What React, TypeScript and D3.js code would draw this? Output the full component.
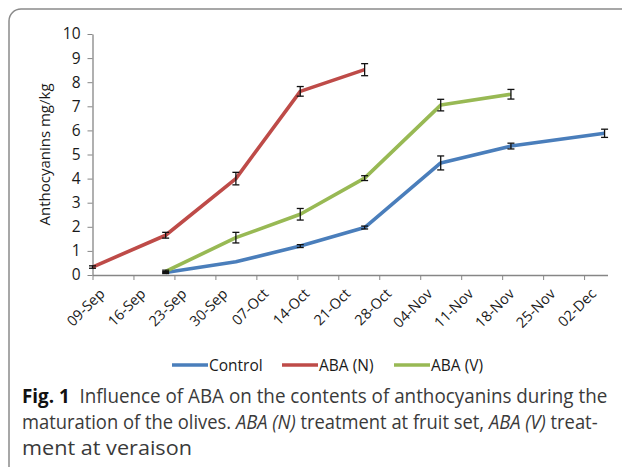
import React, { useEffect, useRef } from 'react';
import * as d3 from 'd3';

// sampling dates (half-day positions)
const sampleDates = [
  new Date(2013, 8, 9, 0),
  new Date(2013, 8, 21, 12),
  new Date(2013, 9, 3, 12),
  new Date(2013, 9, 14, 12),
  new Date(2013, 9, 25, 12),
  new Date(2013, 10, 7, 12),
  new Date(2013, 10, 19, 12),
  new Date(2013, 11, 5, 12),
];

const controlValues = [null, 0.1, 0.55, 1.2, 1.97, 4.65, 5.35, 5.88];
const controlErrors = [null, 0.04, 0.0, 0.06, 0.06, 0.29, 0.12, 0.17];
const abaNValues = [0.33, 1.65, 4.0, 7.62, 8.52, null, null, null];
const abaNErrors = [0.05, 0.12, 0.26, 0.2, 0.25, null, null, null];
const abaVValues = [null, 0.15, 1.55, 2.52, 4.02, 7.05, 7.5, null];
const abaVErrors = [null, 0.05, 0.22, 0.24, 0.1, 0.24, 0.2, null];

const seriesNames = ['Control', 'ABA (N)', 'ABA (V)'];
const seriesColors = ['#4A7EBB', '#BE4B48', '#98B954'];

const xTickStart = new Date(2013, 8, 9);
const xTickEnd = new Date(2013, 11, 2);
const xDomainEnd = new Date(2013, 11, 6);
const yTicks = [0, 1, 2, 3, 4, 5, 6, 7, 8, 9, 10];

const yTitle = 'Anthocyanins mg/kg';
const captionBold = 'Fig. 1';
const captionLines = [
  'Influence of ABA on the contents of anthocyanins during the',
  'maturation of the olives. ',
  'ment at veraison',
];

const fmt = d3.timeFormat('%d-%b');

export default function App() {
  const svgRef = useRef<SVGSVGElement>(null);

  useEffect(() => {
    if (!svgRef.current) return;
    const svg = d3.select(svgRef.current);
    svg.selectAll('*').remove();

    const font = "'Open Sans', 'Noto Sans', sans-serif";
    const left = 92.5;
    const right = 607.5;
    const top = 34;
    const bottom = 275;

    const x = d3.scaleTime().domain([xTickStart, xDomainEnd]).range([left, right]);
    const y = d3.scaleLinear().domain([0, 10]).range([bottom, top]);

    // frame
    svg
      .append('rect')
      .attr('x', 9)
      .attr('y', 9)
      .attr('width', 700)
      .attr('height', 520)
      .attr('rx', 12)
      .attr('fill', 'none')
      .attr('stroke', '#8a8a8a')
      .attr('stroke-width', 1.5);

    // y axis
    const yAxis = svg
      .append('g')
      .attr('transform', `translate(${left},0)`)
      .call(d3.axisLeft(y).tickValues(yTicks).tickSize(5).tickSizeOuter(0).tickPadding(7));
    yAxis.select('.domain').attr('stroke', '#868686').attr('stroke-width', 1.3);
    yAxis.selectAll('.tick line').attr('stroke', '#868686');
    yAxis
      .selectAll('.tick text')
      .attr('font-family', font)
      .attr('font-size', 15.5)
      .attr('fill', '#1a1a1a');

    // x axis
    const xAxis = svg
      .append('g')
      .attr('transform', `translate(0,${bottom})`)
      .call(
        d3
          .axisBottom(x)
          .tickValues(d3.timeDay.range(xTickStart, d3.timeDay.offset(xTickEnd, 1), 7))
          .tickFormat((d) => fmt(d as Date))
          .tickSize(5)
          .tickSizeOuter(0)
      );
    xAxis.select('.domain').attr('stroke', '#868686').attr('stroke-width', 1.3);
    xAxis.selectAll('.tick line').attr('stroke', '#868686');
    xAxis
      .selectAll('.tick text')
      .attr('font-family', font)
      .attr('font-size', 14.5)
      .attr('fill', '#1a1a1a')
      .attr('text-anchor', 'end')
      .attr('dy', 0)
      .attr('transform', 'translate(7,14) rotate(-45)');

    // y title
    svg
      .append('text')
      .attr('transform', `translate(50,${(top + bottom) / 2}) rotate(-90)`)
      .attr('text-anchor', 'middle')
      .attr('font-family', font)
      .attr('font-size', 15)
      .attr('fill', '#1a1a1a')
      .text(yTitle);

    const allValues = [controlValues, abaNValues, abaVValues];
    const allErrors = [controlErrors, abaNErrors, abaVErrors];

    const line = d3
      .line<number | null>()
      .defined((d) => d != null)
      .x((_, i) => x(sampleDates[i]))
      .y((d) => y(d as number));

    allValues.forEach((vals, s) => {
      svg
        .append('path')
        .datum(vals)
        .attr('fill', 'none')
        .attr('stroke', seriesColors[s])
        .attr('stroke-width', 3.6)
        .attr('stroke-linejoin', 'round')
        .attr('d', line);
    });

    // error bars
    allValues.forEach((vals, s) => {
      const g = svg.append('g').attr('stroke', '#111').attr('stroke-width', 1.3);
      vals.forEach((v, i) => {
        const e = allErrors[s][i];
        if (v == null || e == null || e <= 0) return;
        const cx = x(sampleDates[i]);
        const y1 = y(v - e);
        const y2 = y(v + e);
        g.append('line').attr('x1', cx).attr('x2', cx).attr('y1', y1).attr('y2', y2);
        g.append('line').attr('x1', cx - 3.5).attr('x2', cx + 3.5).attr('y1', y1).attr('y2', y1);
        g.append('line').attr('x1', cx - 3.5).attr('x2', cx + 3.5).attr('y1', y2).attr('y2', y2);
      });
    });

    // legend
    const legendX = [172, 282, 394];
    seriesNames.forEach((name, s) => {
      const lg = svg.append('g').attr('transform', `translate(${legendX[s]},365)`);
      lg.append('line')
        .attr('x1', 0)
        .attr('x2', 36)
        .attr('y1', 0)
        .attr('y2', 0)
        .attr('stroke', seriesColors[s])
        .attr('stroke-width', 3.6);
      lg.append('text')
        .attr('x', 37)
        .attr('y', 5.5)
        .attr('font-family', font)
        .attr('font-size', 15.5)
        .attr('fill', '#1a1a1a')
        .text(name);
    });

    // caption, each line squeezed horizontally to the reference width
    const cap = svg
      .append('g')
      .attr('font-family', font)
      .attr('font-size', 20)
      .attr('fill', '#3a3a3a');
    const fit = (t: d3.Selection<SVGTextElement, unknown, null, undefined>, yy: number, w: number) => {
      const nat = t.node()!.getComputedTextLength() || w;
      t.attr('transform', `translate(22,${yy}) scale(${w / nat},1)`);
    };
    const l1 = cap.append('text');
    l1.append('tspan').attr('font-weight', 700).attr('fill', '#111').text(captionBold);
    l1.append('tspan').text('\u00a0\u00a0' + captionLines[0]);
    fit(l1, 403, 586);
    const l2 = cap.append('text');
    l2.append('tspan').text(captionLines[1]);
    l2.append('tspan').attr('font-style', 'italic').text('ABA (N)');
    l2.append('tspan').text(' treatment at fruit set, ');
    l2.append('tspan').attr('font-style', 'italic').text('ABA (V)');
    l2.append('tspan').text(' treat-');
    fit(l2, 429, 576);
    const l3 = cap.append('text').text(captionLines[2]);
    fit(l3, 455, 170);
  }, []);

  return (
    <svg
      ref={svgRef}
      width={622}
      height={467}
      style={{ position: 'absolute', left: 0, top: 0, background: '#fff' }}
    ></svg>
  );
}
